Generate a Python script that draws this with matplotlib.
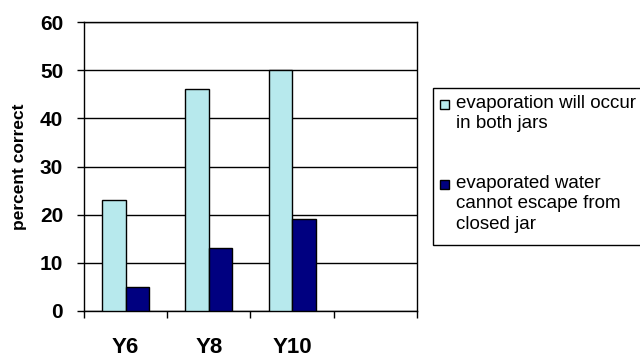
import matplotlib
matplotlib.use("Agg")
import matplotlib.pyplot as plt
from matplotlib.patches import Rectangle
import numpy as np

# data
categories = ["Y6", "Y8", "Y10", ""]
occur = [23, 46, 50]
cannot_escape = [5, 13, 19]
labels = ["evaporation will occur\nin both jars",
          "evaporated water\ncannot escape from\nclosed jar"]
colors = ["#b7e9ed", "#000080"]

plt.rcParams["font.family"] = ["Liberation Sans", "DejaVu Sans"]

W, H = 640, 360
fig = plt.figure(figsize=(W / 100, H / 100), dpi=100)
ax = fig.add_axes([84 / W, 1 - 311 / H, 333 / W, 289 / H])

w = 0.283
x = np.arange(len(occur))
ax.bar(x - w / 2, occur, w, color=colors[0], edgecolor="black", lw=1, zorder=3)
ax.bar(x + w / 2, cannot_escape, w, color=colors[1], edgecolor="black", lw=1,
       zorder=3)

ax.set_xlim(-0.5, len(categories) - 0.5)
ax.set_ylim(0, 60)
ax.set_yticks(np.arange(0, 61, 10))
ax.yaxis.grid(True, color="black", lw=1, zorder=0)

ax.set_xticks(np.arange(len(categories)))
ax.set_xticklabels(categories, fontsize=16, fontweight="bold")
ax.set_xticks(np.arange(len(categories) + 1) - 0.5, minor=True)
ax.tick_params(axis="x", which="major", length=0, pad=19)
ax.tick_params(axis="x", which="minor", length=5, width=1, direction="out")
ax.tick_params(axis="y", length=5, width=1, pad=10, labelsize=15)
for t in ax.get_yticklabels():
    t.set_fontweight("bold")

for s in ax.spines.values():
    s.set_linewidth(1)
ax.set_ylabel("percent correct", fontsize=12.5, fontweight="bold", labelpad=9)

# legend box, running off the right edge as in the original
fig.add_artist(Rectangle((433 / W, 1 - 245 / H), 220 / W, 157 / H,
                         transform=fig.transFigure, facecolor="white",
                         edgecolor="black", lw=1))
for i, (lab, col) in enumerate(zip(labels, colors)):
    yc = [104, 184][i]
    fig.add_artist(Rectangle((440 / W, 1 - (yc + 4.5) / H), 9 / W, 9 / H,
                             transform=fig.transFigure, facecolor=col,
                             edgecolor="black", lw=1))
    fig.text(456 / W, 1 - (yc - 9) / H, lab, fontsize=13.5, va="top",
             ha="left", linespacing=1.25)

fig.savefig("out.png", dpi=100)
